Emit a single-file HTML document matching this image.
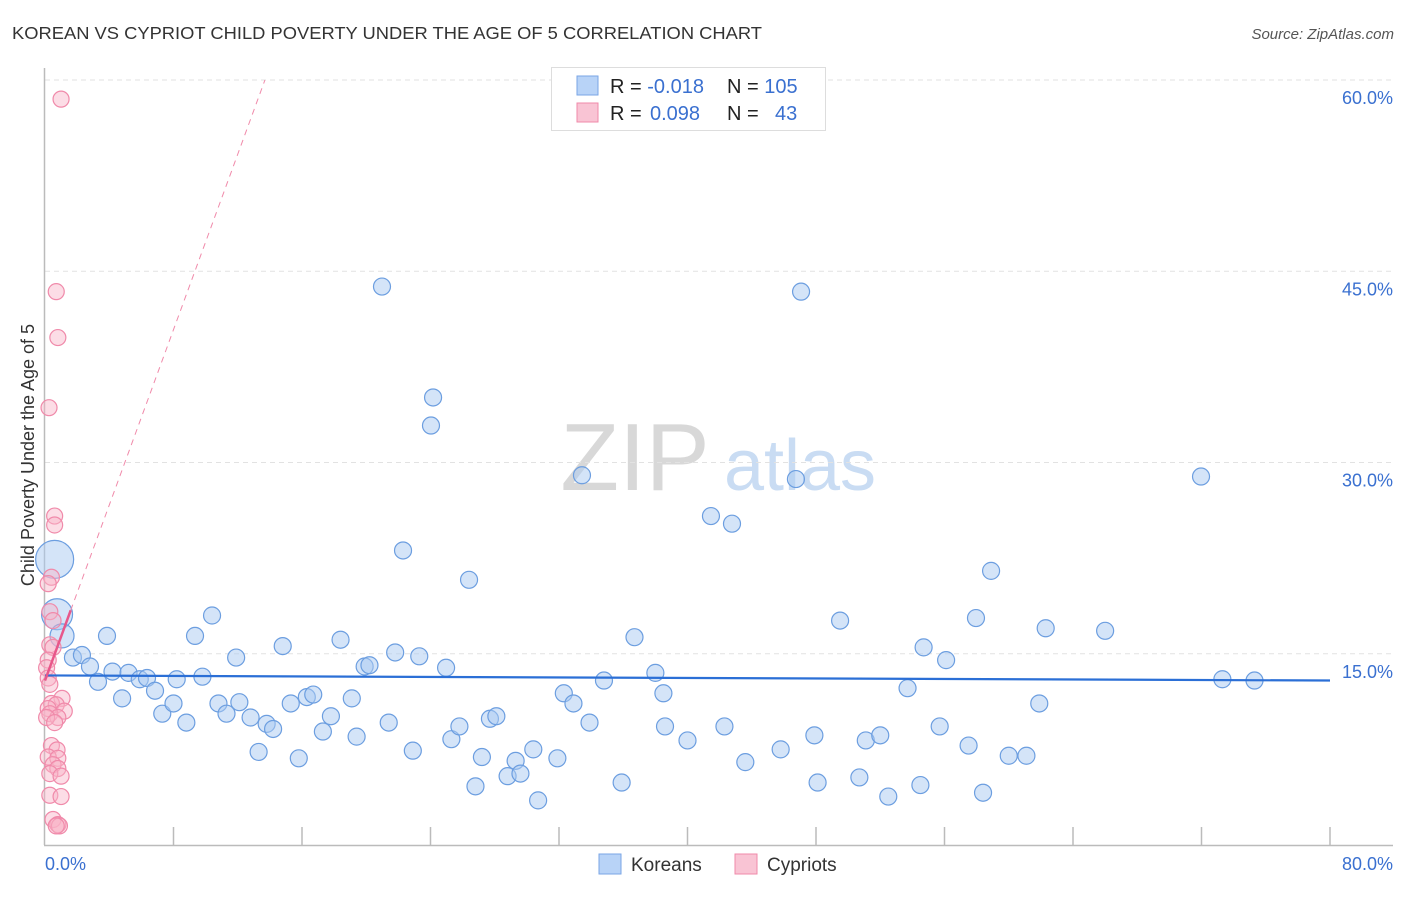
<!DOCTYPE html>
<html><head><meta charset="utf-8"><style>
body{margin:0;background:#fff;font-family:"Liberation Sans",sans-serif;}
svg text{font-family:"Liberation Sans",sans-serif;}
</style></head><body>
<svg id="chart" width="1406" height="892" xmlns="http://www.w3.org/2000/svg">
<text x="12" y="39" font-size="17.5" fill="#333" textLength="750" lengthAdjust="spacingAndGlyphs">KOREAN VS CYPRIOT CHILD POVERTY UNDER THE AGE OF 5 CORRELATION CHART</text>
<text x="1394" y="39" font-size="15" fill="#555" font-style="italic" text-anchor="end">Source: ZipAtlas.com</text>
<text x="34" y="455" font-size="18" fill="#333" text-anchor="middle" transform="rotate(-90 34 455)">Child Poverty Under the Age of 5</text>
<g><text x="635" y="490" font-size="96" fill="#d8d8d8" font-family="Liberation Serif" text-anchor="middle">ZIP</text><text x="800" y="490" font-size="72" fill="#c9dcf3" text-anchor="middle">atlas</text></g>
<g id="grid"></g><g id="axes"></g><g id="pts"></g><g id="trend"></g>
<g>
<rect x="551.5" y="67.5" width="274" height="63" fill="#fff" stroke="#ddd"/>
<rect x="577" y="76" width="21" height="19" fill="#b8d3f7" stroke="#7aa6e6"/>
<rect x="577" y="103" width="21" height="19" fill="#f9c4d4" stroke="#f08aaa"/>
<text x="610" y="93" font-size="20" fill="#222">R = <tspan fill="#3a70d0">-0.018</tspan><tspan x="727">N = </tspan><tspan fill="#3a70d0">105</tspan></text>
<text x="610" y="120" font-size="20" fill="#222">R = <tspan x="650" fill="#3a70d0">0.098</tspan><tspan x="727">N = </tspan><tspan x="775" fill="#3a70d0">43</tspan></text>
</g>
<g>
<rect x="599" y="854" width="22" height="20" fill="#b8d3f7" stroke="#7aa6e6"/>
<text x="631" y="871" font-size="19" fill="#333">Koreans</text>
<rect x="735" y="854" width="22" height="20" fill="#f9c4d4" stroke="#f08aaa"/>
<text x="767" y="871" font-size="19" fill="#333">Cypriots</text>
</g>
</svg>
<script>
const yTicks=[15,30,45,60];
const yTickLabels=["15.0%","30.0%","45.0%","60.0%"];
const xEdgeLabels=["0.0%","80.0%"];
const koreanX=[20.98,47.07,24.16,24.03,33.43,46.75,71.97,41.46,42.77,22.29,26.4,58.9,0.6,0.75,1.06,10.4,3.86,9.34,14.8,18.4,11.9,21.8,23.3,19.9,20.2,24.97,36.7,38.0,49.5,57.96,62.3,66.0,54.7,56.1,73.3,75.3,1.74,2.3,2.8,3.3,4.2,4.8,5.2,5.9,6.35,6.85,7.3,8.0,8.2,8.8,9.8,10.8,11.3,12.1,12.8,13.3,13.8,14.2,15.3,15.8,16.3,16.7,17.3,17.8,19.1,19.4,21.4,22.9,25.3,25.8,26.8,27.2,27.7,28.1,28.8,29.3,29.6,30.4,30.7,31.9,32.3,32.9,33.9,34.8,35.9,38.5,38.6,40.0,42.3,43.6,45.8,47.9,48.1,50.7,51.1,52.0,52.5,53.7,54.5,55.7,57.5,58.4,60.0,61.1,61.9];
const koreanY=[43.8,43.4,35.1,32.9,29.0,28.7,28.9,25.8,25.2,23.1,20.8,21.5,22.4,18.1,16.4,18.0,16.4,16.4,15.6,16.1,14.7,15.1,14.8,14.0,14.1,13.9,16.3,13.5,17.6,17.8,17.0,16.8,15.5,14.5,13.0,12.9,14.7,14.9,14.0,12.8,13.6,11.5,13.5,13.0,13.1,12.1,10.3,11.1,13.0,9.6,13.2,11.1,10.3,11.2,10.0,7.3,9.5,9.1,11.1,6.8,11.6,11.8,8.9,10.1,11.5,8.5,9.6,7.4,8.3,9.3,4.6,6.9,9.9,10.1,5.4,6.6,5.6,7.5,3.5,6.8,11.9,11.1,9.6,12.9,4.9,11.9,9.3,8.2,9.3,6.5,7.5,8.6,4.9,5.3,8.2,8.6,3.8,12.3,4.7,9.3,7.8,4.1,7.0,7.0,11.1];
const koreanSize=[0,0,0,0,0,0,0,0,0,0,0,0,3,2,1];
const cypriotX=[1.0,0.7,0.8,0.25,0.6,0.6,0.4,0.2,0.3,0.5,0.3,0.5,0.2,0.1,0.2,0.3,1.06,0.4,0.7,0.2,1.2,0.3,0.8,0.1,0.6,0.4,0.75,0.2,0.8,0.5,0.8,0.3,1.0,0.3,1.0,0.5,0.8,0.9,0.7];
const cypriotY=[58.5,43.4,39.8,34.3,25.8,25.1,21.0,20.5,18.3,17.6,15.7,15.5,14.5,13.9,13.1,12.6,11.5,11.1,11.0,10.7,10.5,10.3,10.0,10.0,9.6,7.8,7.45,6.9,6.8,6.3,6.0,5.6,5.4,3.9,3.8,2.0,1.6,1.5,1.5];
const blueTrend=[13.3,12.9];
const pinkTrend=[12.9,3.44];
const X=v=>45+v*(1285/80), Y=v=>845-v*12.75;
const NS="http://www.w3.org/2000/svg";
function mk(p,t,a){const e=document.createElementNS(NS,t);for(const k in a)e.setAttribute(k,a[k]);p.appendChild(e);return e;}
const grid=document.getElementById('grid'),axes=document.getElementById('axes'),pts=document.getElementById('pts'),tr=document.getElementById('trend');
yTicks.forEach((t,i)=>{
 const l=mk(grid,'line',{x1:45,x2:1393,y1:Y(t),y2:Y(t),stroke:'#e2e2e2','stroke-dasharray':'5,4'});
 
 
 const tx=mk(axes,'text',{x:1393,y:Y(t)+24,'font-size':18,fill:'#3a70d0','text-anchor':'end'});tx.textContent=yTickLabels[i];
 
 
});
const ya=mk(axes,'line',{x1:44.5,x2:44.5,y1:68,y2:845,stroke:'#bbb','stroke-width':1.5});


const xa=mk(axes,'line',{x1:44,x2:1393,y1:845.5,y2:845.5,stroke:'#bbb','stroke-width':1.5});


for(let i=1;i<=10;i++){const t=mk(axes,'line',{x1:X(i*8),x2:X(i*8),y1:827,y2:845,stroke:'#bbb','stroke-width':1.5});
 
 }
const xl0=mk(axes,'text',{x:45,y:870,'font-size':18,fill:'#3a70d0'});xl0.textContent=xEdgeLabels[0];


const xl1=mk(axes,'text',{x:1393,y:870,'font-size':18,fill:'#3a70d0','text-anchor':'end'});xl1.textContent=xEdgeLabels[1];


koreanX.forEach((v,i)=>{const s=koreanSize[i]||0;const c=mk(pts,'circle',{cx:X(v),cy:Y(koreanY[i]),r:8.5+s*3.5,fill:'rgba(170,202,242,0.5)',stroke:'#6c9ee0','stroke-width':1.2});
 
 });
cypriotX.forEach((v,i)=>{const c=mk(pts,'circle',{cx:X(v),cy:Y(cypriotY[i]),r:8,fill:'rgba(248,180,200,0.45)',stroke:'#f08aaa','stroke-width':1.2});
 
 });
const bl=mk(tr,'line',{x1:X(0),y1:Y(blueTrend[0]),x2:X(80),y2:Y(blueTrend[1]),stroke:'#2b6fd6','stroke-width':2.2});


const pe=(60-pinkTrend[0])/pinkTrend[1];
const pd=mk(tr,'line',{x1:X(1.6),y1:Y(pinkTrend[0]+pinkTrend[1]*1.6),x2:X(pe),y2:Y(60),stroke:'#f08aaa','stroke-width':1,'stroke-dasharray':'6,5'});


const ps=mk(tr,'line',{x1:X(0),y1:Y(pinkTrend[0]),x2:X(1.6),y2:Y(pinkTrend[0]+pinkTrend[1]*1.6),stroke:'#e8578a','stroke-width':2.5});


</script>
</body></html>
